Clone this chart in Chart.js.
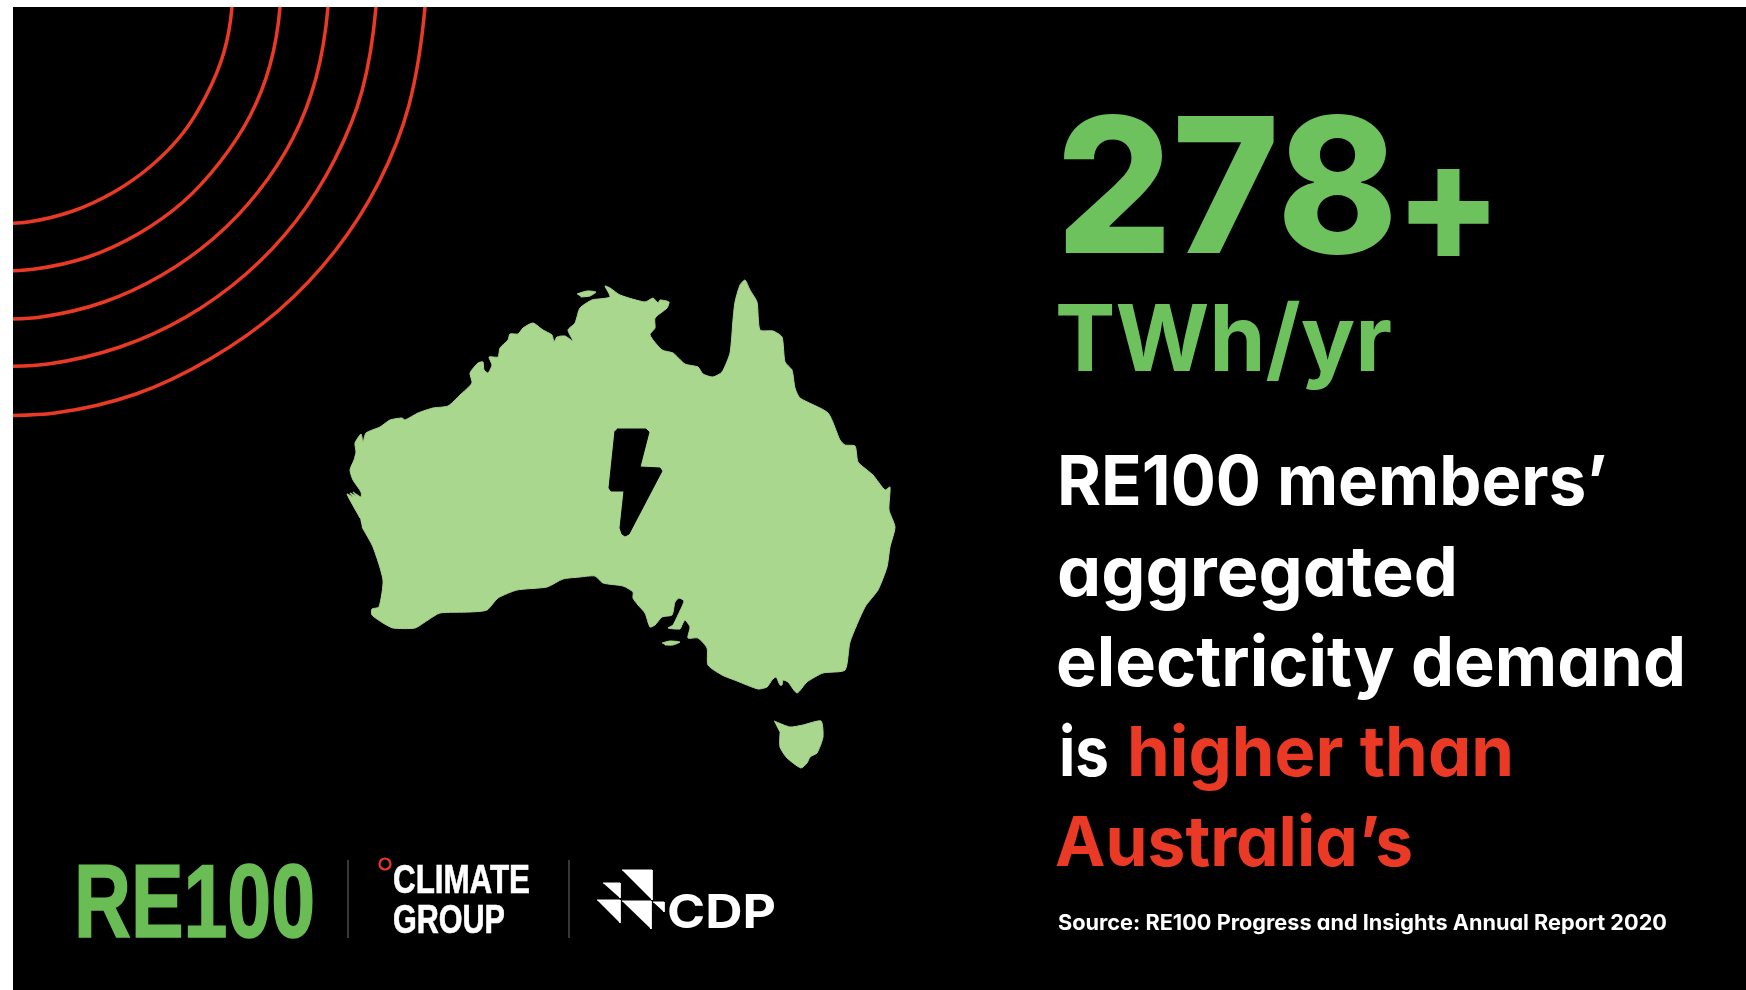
<!DOCTYPE html>
<html><head><meta charset="utf-8">
<script src="https://cdn.jsdelivr.net/npm/chart.js@4"></script>
<style>
html,body{margin:0;padding:0;background:#fff;width:1746px;height:990px;overflow:hidden}
#c{position:absolute;left:13px;top:7px}
.t{position:absolute;white-space:nowrap;line-height:1;transform-origin:0 0;font-kerning:normal}
</style></head><body>
<canvas id="c" width="1733" height="983"></canvas>
<script>
// Outline readings (x,y pairs on the page grid)
const mainland=[[360,518],[347,494],[353,497],[350,493],[356,496],[353,492],[361,497],[361,492],[353,480],[350,470],[354,460],[356,452],[355,443],[361,434],[363,442],[366,433],[380,427],[390,420],[402,418],[405,420],[418,413],[433,408],[448,406],[460,395],[472,383],[470,373],[478,363],[483,362],[484,370],[488,373],[492,365],[489,357],[498,357],[500,348],[508,340],[510,334],[518,334],[523,328],[533,323],[543,330],[552,335],[554,342],[557,337],[565,336],[573,341],[568,330],[575,323],[580,308],[592,300],[610,297],[605,286],[610,288],[620,295],[645,302],[653,298],[658,303],[660,300],[669,302],[667,308],[655,318],[655,328],[650,335],[662,350],[673,353],[685,364],[698,367],[703,374],[713,377],[722,372],[730,353],[733,320],[735,302],[740,285],[745,280],[750,290],[757,302],[760,330],[773,331],[782,337],[785,362],[792,370],[795,388],[800,398],[828,413],[840,440],[845,445],[855,446],[858,462],[867,470],[873,475],[885,490],[890,487],[889,510],[895,527],[890,547],[887,567],[878,590],[865,607],[850,642],[845,670],[823,673],[807,682],[797,693],[788,682],[783,680],[782,685],[780,685],[776,677],[772,680],[767,687],[758,689],[737,681],[722,675],[708,665],[707,648],[698,638],[688,638],[690,627],[685,620],[682,625],[680,629],[668,628],[673,625],[678,615],[684,601],[679,598],[675,602],[672,615],[662,617],[655,625],[650,627],[645,613],[638,605],[633,598],[633,592],[623,586],[603,583],[595,576],[580,577],[563,579],[547,587],[517,590],[498,598],[487,610],[470,612],[440,613],[428,620],[415,628],[393,628],[383,623],[372,615],[372,609],[379,607],[383,580],[373,547],[362,527]];
const tasmania=[[774,721],[790,727],[803,725],[821,721],[823,737],[817,753],[810,757],[807,763],[801,768],[787,758],[780,747],[780,733]];
const kangaroo=[[662,643],[670,641],[680,642],[673,645],[665,645]];
const melville=[[577,294],[587,291],[596,292],[590,296],[581,297]];
const bolt=[[617,429],[646,429],[649,432],[640,467],[660,468],[662,471],[629,534],[625,536],[622,534],[620,528],[624,491],[611,491],[609,488],[615,431]];
const arcA=[[232,-39],[232,7],[224,52],[207,94],[183,133],[151,166],[114,192],[73,211],[28,222],[-17,224]];
const arcB=[[279,-44],[280,7],[270,65],[250,116],[220,162],[183,202],[138,234],[88,257],[35,269],[-20,272]];
const arcC=[[327,-49],[328,7],[316,78],[293,138],[258,192],[214,238],[162,275],[104,302],[41,317],[-22,320]];
const arcD=[[375,-54],[376,7],[362,91],[335,159],[296,221],[246,274],[186,317],[120,347],[48,364],[-25,367]];
const arcE=[[424,-59],[425,7],[409,105],[379,182],[335,251],[278,311],[210,359],[136,394],[55,413],[-28,416]];
const dividerA=[[348,860],[348,938]];
const dividerB=[[569,860],[569,938]];
const ring=[[385,864]];
const cdpTriangles=[[[622,870],[652,870],[652,900]],[[603,883],[620,883],[620,898]],[[597,900],[620,900],[620,923]],[[622,901],[651,901],[651,929]],[[653,902],[664,902],[664,912]]];
// text, left, right, baseline, size, weight, colour, font key
const GREEN='#6DC25E',MAP='#A9D78E',RED='#EA3A26',WHITE='#FFFFFF',LOGO='#6ABD55';
const headline=[['278',1056,1398,253,188,800,GREEN,'i'],['+',1395,1502,262,170,800,GREEN,'i'],['TWh/yr',1055,1392,371,92,700,GREEN,'i']];
const statement=[['RE100 members’',1057,1607,505,69,700,WHITE,'i'],['aggregated',1057,1458,596,69,700,WHITE,'i'],['electricity demand',1056,1686,686,69,700,WHITE,'i'],['is',1059,1109,776,69,700,WHITE,'i'],['higher than',1127,1514,776,69,700,RED,'i'],['Australia’s',1055,1413,866,69,700,RED,'i']];
const source=[['Source: RE100 Progress and Insights Annual Report 2020',1058,1667,930,21,700,WHITE,'i']];
const logos=[['RE100',74,315,937,103,700,LOGO,'n'],['CLIMATE',393,530,893,40,700,WHITE,'n'],['GROUP',393,505,933,40,700,WHITE,'n'],['CDP',667,776,928,47,700,WHITE,'c']];

const xy=a=>a.map(p=>({x:p[0],y:p[1]}));
const shape=(a,col,t)=>({data:xy(a),showLine:true,fill:'shape',backgroundColor:col,borderColor:col,borderWidth:1,pointRadius:0,tension:t||0});
const arc=a=>({data:xy(a),showLine:true,fill:false,borderColor:RED,borderWidth:3.5,pointRadius:0,tension:0.33});
const rule=a=>({data:xy(a),showLine:true,fill:false,borderColor:'#4a4a4a',borderWidth:1.5,pointRadius:0});
const blackout={id:'blackout',beforeDraw(ch){const c=ch.ctx;c.save();c.fillStyle='#000';c.fillRect(0,0,ch.width,ch.height);c.restore();}};
new Chart(document.getElementById('c'),{type:'scatter',plugins:[blackout],data:{datasets:[
 shape(bolt,'#000'),
 {data:xy(ring),pointRadius:5.5,pointBorderWidth:2.2,pointBackgroundColor:'#000',pointBorderColor:RED,showLine:false},
 ...cdpTriangles.map(t=>shape(t,WHITE)),
 shape(mainland,MAP,0.2),shape(tasmania,MAP,0.2),shape(kangaroo,MAP,0.2),shape(melville,MAP,0.2),
 arc(arcA),arc(arcB),arc(arcC),arc(arcD),arc(arcE),rule(dividerA),rule(dividerB)
]},options:{responsive:false,animation:false,events:[],layout:{padding:0,autoPadding:false},
 plugins:{legend:{display:false},tooltip:{enabled:false},title:{display:false}},
 scales:{x:{type:'linear',display:false,min:13,max:1746},y:{type:'linear',display:false,reverse:true,min:7,max:990}}}});

const fonts={i:'Inter, sans-serif',n:'"Liberation Sans Narrow","Liberation Sans",sans-serif',c:'Inter, sans-serif'};
function put(r){const [s,x0,x1,base,size,w,col,f]=r;const e=document.createElement('span');e.className='t';e.textContent=s;
 e.style.cssText+=`font-family:${fonts[f]};font-size:${size}px;font-weight:${w};color:${col};left:0;top:0;`;
 if(f==='i')e.style.fontFeatureSettings='"cv11" 1';
 if(f==='n')e.style.webkitTextStroke='0.016em '+col;
 const m=document.createElement('i');m.style.cssText='display:inline-block;width:0;height:0';e.appendChild(m);document.body.appendChild(e);
 const b=m.getBoundingClientRect().bottom,wd=e.getBoundingClientRect().width;
 e.style.top=(base-b)+'px';e.style.left=x0+'px';e.style.transform=`scaleX(${(x1-x0)/wd})`;}
[...headline,...statement,...source,...logos].forEach(put);
</script></body></html>
